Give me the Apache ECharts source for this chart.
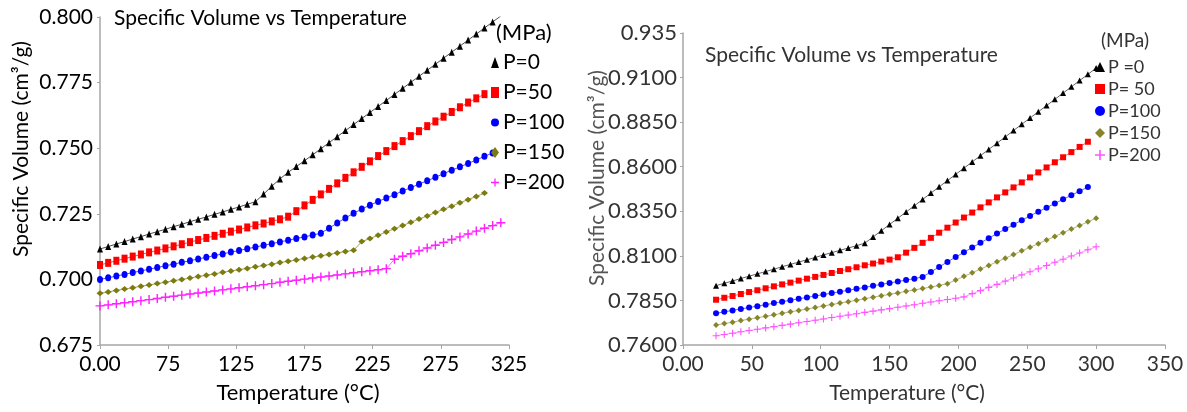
<!DOCTYPE html>
<html>
<head>
<meta charset="utf-8">
<script src="https://cdn.jsdelivr.net/npm/echarts@6/dist/echarts.min.js"></script>
<style>
  html, body { margin: 0; padding: 0; background: #fff; }
  #chart { width: 1187px; height: 412px; }
</style>
</head>
<body>
<div id="chart"></div>
<script>
// ---- data ----
// left panel (temperature, specific volume)
var leftTemp = [25,31,37,43,49,55,61,67,73,79,85,91,97,103,109,115,121,127,133,139,
  145,151,157,163,169,175,181,187,193,199,205,211,217,223,229,235,241,247,253,259,
  265,271,277,283,289,295,301,307,313,319];
var leftP0 = [0.7116,0.7125,0.7135,0.7144,0.7154,0.7163,0.7173,0.7182,0.7191,0.7201,
  0.7210,0.7220,0.7229,0.7238,0.7248,0.7257,0.7267,0.7276,0.7286,0.7296,
  0.7325,0.7355,0.7383,0.7408,0.7430,0.7452,0.7475,0.7498,0.7521,0.7544,
  0.7567,0.7590,0.7613,0.7636,0.7659,0.7682,0.7705,0.7728,0.7751,0.7774,
  0.7797,0.7820,0.7843,0.7866,0.7889,0.7912,0.7935,0.7958,0.7981,0.8004];
var leftP50 = [0.7055,0.7063,0.7071,0.7079,0.7087,0.7095,0.7103,0.7110,0.7118,0.7126,
  0.7134,0.7142,0.7150,0.7158,0.7166,0.7174,0.7182,0.7190,0.7198,0.7206,
  0.7213,0.7221,0.7229,0.7239,0.7260,0.7282,0.7303,0.7324,0.7345,0.7366,
  0.7387,0.7408,0.7429,0.7450,0.7470,0.7489,0.7508,0.7527,0.7546,0.7565,
  0.7584,0.7602,0.7620,0.7638,0.7656,0.7674,0.7690,0.7706];
var leftP100 = [0.7000,0.7006,0.7013,0.7019,0.7026,0.7032,0.7039,0.7045,0.7052,0.7058,
  0.7065,0.7071,0.7078,0.7084,0.7091,0.7097,0.7104,0.7110,0.7117,0.7123,
  0.7130,0.7136,0.7143,0.7149,0.7156,0.7162,0.7169,0.7176,0.7195,0.7215,
  0.7234,0.7252,0.7268,0.7283,0.7297,0.7310,0.7323,0.7337,0.7350,0.7363,
  0.7376,0.7389,0.7403,0.7416,0.7429,0.7442,0.7455,0.7469,0.7482];
var leftP150 = [0.6947,0.6952,0.6958,0.6963,0.6968,0.6974,0.6979,0.6984,0.6989,0.6995,
  0.7000,0.7005,0.7011,0.7016,0.7021,0.7027,0.7032,0.7037,0.7042,0.7048,
  0.7053,0.7058,0.7064,0.7069,0.7074,0.7080,0.7085,0.7090,0.7095,0.7101,
  0.7106,0.7111,0.7144,0.7156,0.7168,0.7181,0.7193,0.7205,0.7218,0.7230,
  0.7242,0.7255,0.7267,0.7279,0.7292,0.7304,0.7316,0.7329];
var leftP200 = [0.6899,0.6903,0.6907,0.6911,0.6915,0.6919,0.6923,0.6927,0.6932,0.6936,
  0.6940,0.6944,0.6948,0.6952,0.6956,0.6960,0.6964,0.6968,0.6972,0.6976,
  0.6980,0.6984,0.6989,0.6993,0.6997,0.7001,0.7005,0.7009,0.7013,0.7017,
  0.7021,0.7025,0.7029,0.7033,0.7037,0.7041,0.7077,0.7088,0.7098,0.7109,
  0.7120,0.7130,0.7141,0.7152,0.7162,0.7173,0.7184,0.7195,0.7205,0.7216];

// right panel
var rightTemp = [24,30,36,42,48,54,60,66,72,78,84,90,96,102,108,114,120,126,132,138,
  144,150,156,162,168,174,180,186,192,198,204,210,216,222,228,234,240,246,252,258,
  264,270,276,282,288,294,300];
var rightP0 = [0.7933,0.7946,0.7959,0.7973,0.7986,0.7999,0.8012,0.8025,0.8039,0.8052,
  0.8065,0.8078,0.8091,0.8105,0.8118,0.8131,0.8144,0.8157,0.8171,0.8206,
  0.8241,0.8276,0.8311,0.8346,0.8381,0.8416,0.8452,0.8487,0.8522,0.8557,
  0.8592,0.8627,0.8662,0.8697,0.8732,0.8767,0.8803,0.8838,0.8873,0.8908,
  0.8943,0.8978,0.9013,0.9048,0.9083,0.9118,0.9153];
var rightP50 = [0.7854,0.7865,0.7875,0.7886,0.7897,0.7907,0.7918,0.7929,0.7940,0.7950,
  0.7961,0.7972,0.7982,0.7993,0.8004,0.8015,0.8025,0.8036,0.8047,0.8057,
  0.8068,0.8079,0.8092,0.8118,0.8145,0.8173,0.8201,0.8230,0.8258,0.8287,
  0.8315,0.8343,0.8372,0.8400,0.8428,0.8456,0.8484,0.8512,0.8540,0.8568,
  0.8596,0.8625,0.8653,0.8682,0.8711,0.8740];
var rightP100 = [0.7778,0.7786,0.7794,0.7802,0.7810,0.7818,0.7826,0.7835,0.7843,0.7851,
  0.7859,0.7867,0.7875,0.7883,0.7891,0.7899,0.7907,0.7915,0.7923,0.7932,
  0.7940,0.7948,0.7956,0.7964,0.7972,0.7982,0.8010,0.8038,0.8066,0.8093,
  0.8120,0.8147,0.8173,0.8199,0.8225,0.8250,0.8275,0.8300,0.8324,0.8348,
  0.8370,0.8394,0.8417,0.8440,0.8463,0.8486];
var rightP150 = [0.7712,0.7720,0.7728,0.7737,0.7745,0.7753,0.7761,0.7769,0.7778,0.7786,
  0.7794,0.7802,0.7810,0.7819,0.7827,0.7835,0.7843,0.7851,0.7860,0.7868,
  0.7876,0.7884,0.7892,0.7901,0.7909,0.7917,0.7925,0.7934,0.7944,0.7964,
  0.7985,0.8005,0.8026,0.8046,0.8067,0.8087,0.8107,0.8128,0.8148,0.8168,
  0.8189,0.8209,0.8230,0.8250,0.8270,0.8291,0.8311];
var rightP200 = [0.7652,0.7659,0.7666,0.7674,0.7681,0.7688,0.7696,0.7703,0.7710,0.7717,
  0.7725,0.7732,0.7739,0.7746,0.7754,0.7761,0.7768,0.7775,0.7783,0.7790,
  0.7797,0.7804,0.7812,0.7819,0.7826,0.7834,0.7841,0.7848,0.7855,0.7862,
  0.7870,0.7888,0.7905,0.7923,0.7940,0.7958,0.7976,0.7993,0.8011,0.8028,
  0.8046,0.8064,0.8081,0.8099,0.8116,0.8134,0.8151];

// tick labels
var leftXTicks = [25, 75, 125, 175, 225, 275, 325];
var leftXLabels = ['0.00', '75', '125', '175', '225', '275', '325'];
var leftYTicks = [0.675, 0.700, 0.725, 0.750, 0.775, 0.800];
var rightXTicks = [0, 50, 100, 150, 200, 250, 300, 350];
var rightXLabels = ['0.00', '50', '100', '150', '200', '250', '300', '350'];
var rightYTicks = [0.760, 0.785, 0.810, 0.835, 0.860, 0.885, 0.910, 0.935];
var rightYLabels = ['0.7600', '0.7850', '0.8100', '0.8350', '0.8600', '0.8850', '0.9100', '0.935'];

var leftNames = ['P=0', 'P=50', 'P=100', 'P=150', 'P=200'];
var rightNames = ['P =0', 'P= 50', 'P=100', 'P=150', 'P=200'];
var leftValues = [leftP0, leftP50, leftP100, leftP150, leftP200];
var rightValues = [rightP0, rightP50, rightP100, rightP150, rightP200];

// ---- styles ----
var FONT = 'Lato';
var plusPath = 'path://M4.2,0H5.8V4.2H10V5.8H5.8V10H4.2V5.8H0V4.2H4.2Z';
var symbols = ['triangle', 'rect', 'circle', 'diamond', plusPath];
var leftColors = ['#000000', '#ff0000', '#0000ff', '#7b7b10', '#ff22ff'];
var rightColors = ['#000000', '#ff0000', '#0000ff', '#85852a', '#ff55ff'];
var leftSizes = [[6, 7], [6, 8], [6, 7], [7, 6], [9, 9]];
var rightSizes = [[6, 6], [6, 6], [6, 6], [6, 6], [7, 7]];

function pairs(temps, vals) {
    return vals.map(function (v, i) { return [temps[i], v]; });
}

function pickLabel(ticks, labels, value) {
    for (var i = 0; i < ticks.length; i++) {
        if (Math.abs(ticks[i] - value) < 1e-6) return labels[i];
    }
    return '';
}

var chart = echarts.init(document.getElementById('chart'), null, { renderer: 'canvas' });

var series = [];
for (var i = 0; i < 5; i++) {
    series.push({
        name: leftNames[i],
        type: 'line',
        xAxisIndex: 0,
        yAxisIndex: 0,
        data: pairs(leftTemp, leftValues[i]),
        symbol: symbols[i],
        symbolSize: leftSizes[i],
        symbolKeepAspect: false,
        itemStyle: { color: leftColors[i] },
        lineStyle: { color: leftColors[i], width: 1, opacity: 0.7 },
        silent: true
    });
}
for (var j = 0; j < 5; j++) {
    series.push({
        name: 'R:' + rightNames[j],
        type: 'line',
        xAxisIndex: 1,
        yAxisIndex: 1,
        data: pairs(rightTemp, rightValues[j]),
        symbol: symbols[j],
        symbolSize: rightSizes[j],
        symbolKeepAspect: false,
        itemStyle: { color: rightColors[j] },
        lineStyle: { color: rightColors[j], width: 1, opacity: 0.6 },
        silent: true
    });
}

var axisLine = { show: true, lineStyle: { color: '#a6a6a6', width: 1.5 } };
var axisTick = { show: true, length: 4, lineStyle: { color: '#a6a6a6', width: 1 } };

var option = {
    animation: false,
    backgroundColor: '#ffffff',
    title: [
        {
            text: 'Specific Volume vs Temperature',
            left: 114, top: 8, padding: 0,
            textStyle: { fontFamily: FONT, fontWeight: 'normal', fontSize: 21, color: '#000' }
        },
        {
            text: '(MPa)',
            left: 496, top: 22, padding: 0,
            textStyle: { fontFamily: FONT, fontWeight: 'normal', fontSize: 22, color: '#000' }
        },
        {
            text: 'Specific Volume vs Temperature',
            left: 705, top: 45, padding: 0,
            textStyle: { fontFamily: FONT, fontWeight: 'normal', fontSize: 21, color: '#333' }
        },
        {
            text: '(MPa)',
            left: 1101, top: 31, padding: 0,
            textStyle: { fontFamily: FONT, fontWeight: 'normal', fontSize: 19, color: '#333' }
        }
    ],
    legend: [
        {
            orient: 'vertical',
            left: 491, top: 52,
            padding: 0,
            itemWidth: 8, itemHeight: 11, itemGap: 9,
            selectedMode: false,
            textStyle: { fontFamily: FONT, fontSize: 21, color: '#000', padding: [0, 0, 0, -1] },
            data: leftNames.map(function (n, i) {
                return { name: n, icon: symbols[i], itemStyle: { color: leftColors[i] } };
            })
        },
        {
            orient: 'vertical',
            left: 1095, top: 58,
            padding: 0,
            itemWidth: 10, itemHeight: 10, itemGap: 4,
            selectedMode: false,
            formatter: function (n) { return n.replace('R:', ''); },
            textStyle: { fontFamily: FONT, fontSize: 18, color: '#333', padding: [0, 0, 0, -2] },
            data: rightNames.map(function (n, i) {
                return { name: 'R:' + n, icon: symbols[i], itemStyle: { color: rightColors[i] } };
            })
        }
    ],
    grid: [
        { left: 100, top: 17, width: 409, height: 328 },
        { left: 683, top: 33, width: 482, height: 312 }
    ],
    xAxis: [
        {
            type: 'value', gridIndex: 0, min: 25, max: 325,
            splitLine: { show: false },
            axisLine: axisLine, axisTick: Object.assign({ customValues: leftXTicks }, axisTick),
            axisLabel: {
                customValues: leftXTicks, margin: 9,
                fontFamily: FONT, fontSize: 21, color: '#000',
                formatter: function (v) { return pickLabel(leftXTicks, leftXLabels, v); }
            }
        },
        {
            type: 'value', gridIndex: 1, min: 0, max: 350,
            splitLine: { show: false },
            axisLine: axisLine, axisTick: Object.assign({ customValues: rightXTicks }, axisTick),
            axisLabel: {
                customValues: rightXTicks, margin: 9,
                fontFamily: FONT, fontSize: 21, color: '#333',
                formatter: function (v) { return pickLabel(rightXTicks, rightXLabels, v); }
            }
        }
    ],
    yAxis: [
        {
            type: 'value', gridIndex: 0, min: 0.675, max: 0.800,
            splitLine: { show: false },
            axisLine: axisLine,
            axisTick: { show: true, length: 3, customValues: leftYTicks, lineStyle: { color: '#a6a6a6' } },
            axisLabel: {
                customValues: leftYTicks, margin: 7,
                fontFamily: FONT, fontSize: 21, color: '#000',
                formatter: function (v) { return v.toFixed(3); }
            }
        },
        {
            type: 'value', gridIndex: 1, min: 0.760, max: 0.935,
            splitLine: { show: false },
            axisLine: axisLine,
            axisTick: { show: true, length: 3, customValues: rightYTicks, lineStyle: { color: '#a6a6a6' } },
            axisLabel: {
                customValues: rightYTicks, margin: 6,
                fontFamily: FONT, fontSize: 22, color: '#333',
                formatter: function (v) { return pickLabel(rightYTicks, rightYLabels, v); }
            }
        }
    ],
    graphic: [
        {
            type: 'text', x: 21, y: 149, rotation: Math.PI / 2,
            style: {
                text: 'Specific Volume (cm³/g)', fill: '#000',
                font: '21px Lato', align: 'center', verticalAlign: 'middle'
            }
        },
        {
            type: 'text', x: 298, y: 393,
            style: {
                text: 'Temperature (°C)', fill: '#000',
                font: '22px Lato', align: 'center', verticalAlign: 'middle'
            }
        },
        {
            type: 'text', x: 597, y: 178, rotation: Math.PI / 2,
            style: {
                text: 'Specific Volume (cm³/g)', fill: '#555',
                font: '21px Lato', align: 'center', verticalAlign: 'middle'
            }
        },
        {
            type: 'text', x: 907, y: 393,
            style: {
                text: 'Temperature (°C)', fill: '#333',
                font: '21px Lato', align: 'center', verticalAlign: 'middle'
            }
        }
    ],
    series: series
};

chart.setOption(option);
</script>
</body>
</html>
